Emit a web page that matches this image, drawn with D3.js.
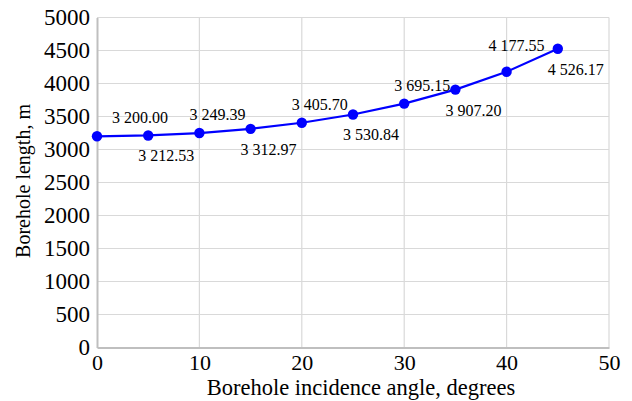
<!DOCTYPE html>
<html>
<head>
<meta charset="utf-8">
<script src="https://cdn.jsdelivr.net/npm/d3@7"></script>
<style>
  body { margin: 0; background: #fff; }
  svg text { font-family: "Liberation Serif", "Times New Roman", serif; fill: #000; }
</style>
</head>
<body>
<div id="chart"></div>
<script>
const angles = [0, 5, 10, 15, 20, 25, 30, 35, 40, 45];
const lengths = [3200.00, 3212.53, 3249.39, 3312.97, 3405.70, 3530.84, 3695.15, 3907.20, 4177.55, 4526.17];
const xTicks = [0, 10, 20, 30, 40, 50];
const yTicks = [0, 500, 1000, 1500, 2000, 2500, 3000, 3500, 4000, 4500, 5000];

const width = 632;
const height = 401;
const margin = { top: 17.5, right: 23, bottom: 53.5, left: 97 };

const svg = d3.select("#chart")
  .append("svg")
  .attr("width", width)
  .attr("height", height);

const x = d3.scaleLinear()
  .domain([0, 50])
  .range([margin.left, width - margin.right]);

const y = d3.scaleLinear()
  .domain([0, 5000])
  .range([height - margin.bottom, margin.top]);

// grid
svg.append("g")
  .selectAll("line")
  .data(xTicks.slice(1))
  .enter()
  .append("line")
  .attr("x1", d => x(d))
  .attr("x2", d => x(d))
  .attr("y1", y(0))
  .attr("y2", y(5000))
  .attr("stroke", "#d9d9d9")
  .attr("stroke-width", 1.2);

svg.append("g")
  .selectAll("line")
  .data(yTicks.slice(1))
  .enter()
  .append("line")
  .attr("x1", x(0))
  .attr("x2", x(50))
  .attr("y1", d => y(d))
  .attr("y2", d => y(d))
  .attr("stroke", "#d9d9d9")
  .attr("stroke-width", 1.2);

// axes
const xAxis = d3.axisBottom(x).tickValues(xTicks).tickFormat(d3.format("d")).tickSize(0).tickPadding(7);
const yAxis = d3.axisLeft(y).tickValues(yTicks).tickFormat(d3.format("d")).tickSize(0).tickPadding(7);

svg.append("g")
  .attr("transform", "translate(0," + y(0) + ")")
  .call(xAxis)
  .call(g => g.select(".domain").attr("stroke", "#bfbfbf").attr("stroke-width", 2))
  .call(g => g.selectAll("text").style("font-size", "22px"));

svg.append("g")
  .attr("transform", "translate(" + x(0) + ",0)")
  .call(yAxis)
  .call(g => g.select(".domain").attr("stroke", "#bfbfbf").attr("stroke-width", 2))
  .call(g => g.selectAll("text").style("font-size", "23px"));

// line + points
const line = d3.line()
  .x((d, i) => x(angles[i]))
  .y(d => y(d));

svg.append("path")
  .datum(lengths)
  .attr("d", line)
  .attr("fill", "none")
  .attr("stroke", "#0000ff")
  .attr("stroke-width", 2.2);

svg.selectAll("circle")
  .data(lengths)
  .enter()
  .append("circle")
  .attr("cx", (d, i) => x(angles[i]))
  .attr("cy", d => y(d))
  .attr("r", 5.2)
  .attr("fill", "#0000ff");

// data labels, alternating above / below
const fmt = v => {
  const s = v.toFixed(2);
  return s.slice(0, 1) + " " + s.slice(1);
};

svg.selectAll("text.lbl")
  .data(lengths)
  .enter()
  .append("text")
  .attr("class", "lbl")
  .attr("x", (d, i) => x(angles[i]) + (i === 0 ? 43 : i === 8 ? 10 : 18))
  .attr("y", (d, i) => y(d) + (i % 2 === 0 ? (i === 8 ? -21 : -13) : 26))
  .attr("text-anchor", "middle")
  .style("font-size", "16px")
  .text(d => fmt(d));

// titles
svg.append("text")
  .attr("x", 361)
  .attr("y", 395)
  .attr("text-anchor", "middle")
  .style("font-size", "22.5px")
  .text("Borehole incidence angle, degrees");

svg.append("text")
  .attr("transform", "rotate(-90)")
  .attr("x", -181)
  .attr("y", 30)
  .attr("text-anchor", "middle")
  .style("font-size", "20px")
  .text("Borehole length, m");
</script>
</body>
</html>
